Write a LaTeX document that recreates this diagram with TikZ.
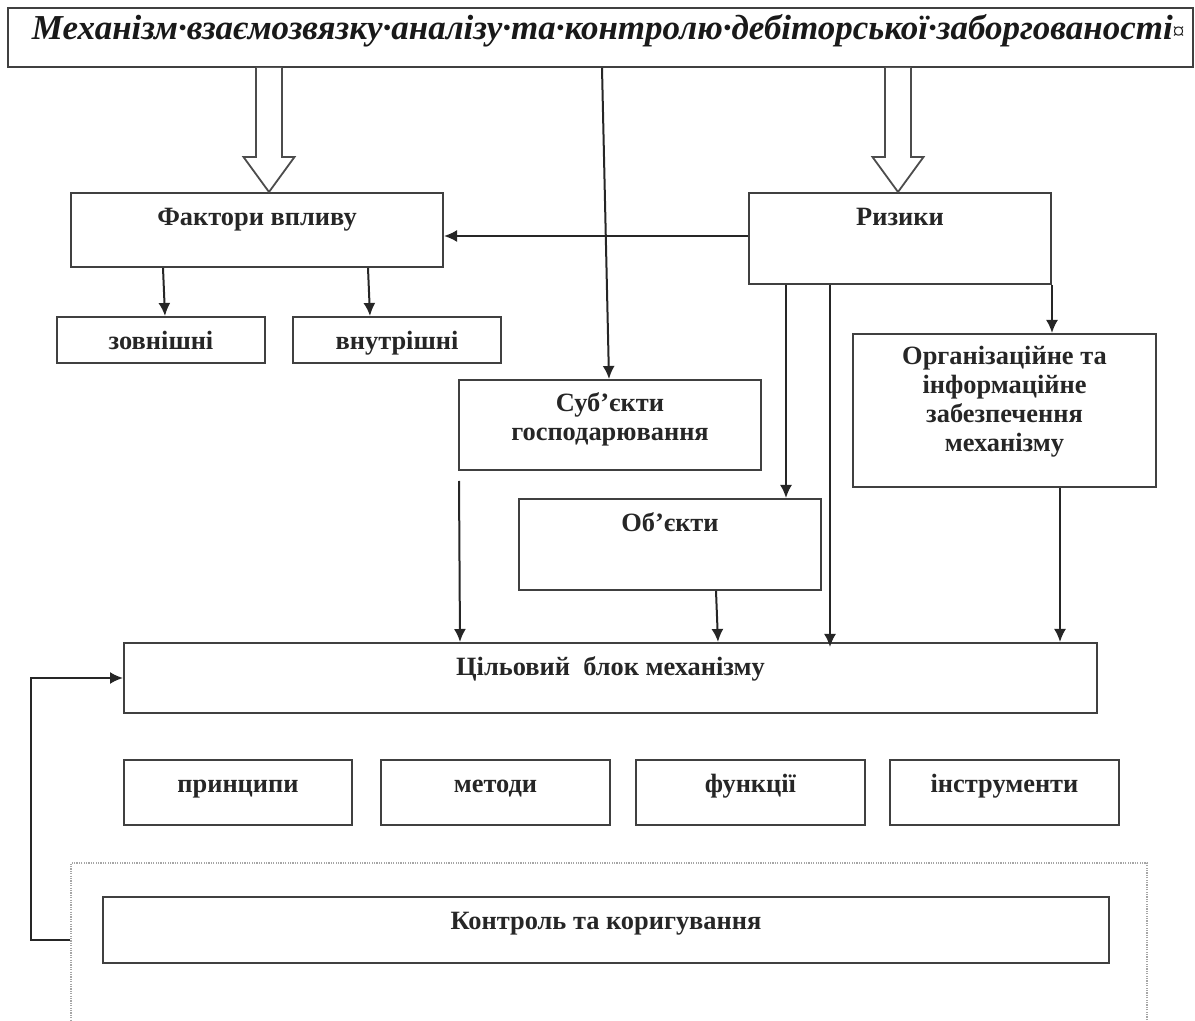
\documentclass[tikz,border=0pt]{standalone}
\usepackage{fontspec}
\setmainfont{Liberation Serif}
\usetikzlibrary{arrows.meta,calc,fit}
\tikzset{
  box/.style={draw=black!75, line width=1pt, inner sep=0pt},
  lbl/.style={inner sep=0pt, anchor=north, align=center, text=black!85,
    font=\fontsize{13.2}{14.5}\selectfont\bfseries, execute at begin node=\strut},
  arr/.style={draw=black!85, line width=1pt, -{Latex[length=6.5pt,width=6pt]}},
  hol/.style={draw=black!70, line width=0.9pt, fill=white},
  dots/.style={draw=black!35, line width=0.7pt, dash pattern=on 0.6pt off 0.6pt},
}
% box from corner to corner, text near its top
\def\blk#1(#2,#3)(#4,#5)#6{\node[box, fit={(#2,#3) (#4,#5)}] (#1) {};
  \node[lbl] (#1-t) at ($(#1.north)+(0,13)$) {#6};}
% hollow arrow from the title down to a box
\def\hollow#1#2{\draw[hol] ($(title.south -| #1,0)+(-13,0)$) -- ($(#2.north -| #1,0)+(-13,-35)$)
  -- ++(-12.5,0) -- (#2.north -| #1,0) -- ++(25.5,-35) -- ++(-12.5,0)
  -- ($(title.south -| #1,0)+(13,0)$);}

\begin{document}
\begin{tikzpicture}[x=0.5pt,y=-0.5pt]
\useasboundingbox (0,0) rectangle (1195,1021);
\node[box, fit={(7.6,8) (1193,67)}] (title) {};
\node[inner sep=0pt, anchor=base west, text=black!90,
  font=\fontsize{17.5}{17.5}\selectfont\bfseries\itshape] (title-t) at ($(title.west)+(25,2)$)
  {Механізм·взаємозвязку·аналізу·та·контролю·дебіторської·заборгованості{\normalfont\fontsize{12}{12}\selectfont ¤}};
\blk fact(71,193)(443,267){Фактори впливу}
\blk zovn(57,317)(265,363){зовнішні}
\blk vnut(293,317)(501,363){внутрішні}
\blk riz(749,193)(1051,284){Ризики}
\blk subj(459,380)(761,470){Суб’єкти\\господарювання}
\blk org(853,334)(1156,487){Організаційне та\\інформаційне\\забезпечення\\механізму}
\blk obj(519,499)(821,590){Об’єкти}
\blk goal(124,643)(1097,713){Цільовий\ \ блок механізму}
\blk prin(124,760)(352,825){принципи}
\blk meth(381,760)(610,825){методи}
\blk func(636,760)(865,825){функції}
\blk tool(890,760)(1119,825){інструменти}
\node[dots, inner sep=0pt, fit={(71,863) (1147,1060)}] (outer) {};
\blk ctrl(103,897)(1109,963){Контроль та коригування}
\hollow{269}{fact}
\hollow{898}{riz}
\draw[arr] (title.south -| 602,0) -- (subj.north -| 609,0);
\draw[arr] (fact.south -| 163,0) -- (zovn.north -| 165,0);
\draw[arr] (fact.south -| 368,0) -- (vnut.north -| 370,0);
\draw[arr] (riz.west |- 0,236) -- (fact.east |- 0,236);
\draw[arr] (riz.south -| 786,0) -- (obj.north -| 786,0);
\draw[arr] (riz.south -| 830,0) -- ($(goal.north -| 830,0)+(0,5)$);
\draw[arr] (riz.south east) -- (org.north -| riz.east);
\draw[arr] (org.south -| 1060,0) -- (goal.north -| 1060,0);
\draw[arr] ($(subj.south west)+(1,10)$) -- (goal.north -| 460,0);
\draw[arr] (obj.south -| 716,0) -- (goal.north -| 718,0);
\coordinate (fb) at (31,678);
\draw[arr] (outer.west |- 0,940) -| (fb) -- (goal.west);
\end{tikzpicture}
\end{document}
